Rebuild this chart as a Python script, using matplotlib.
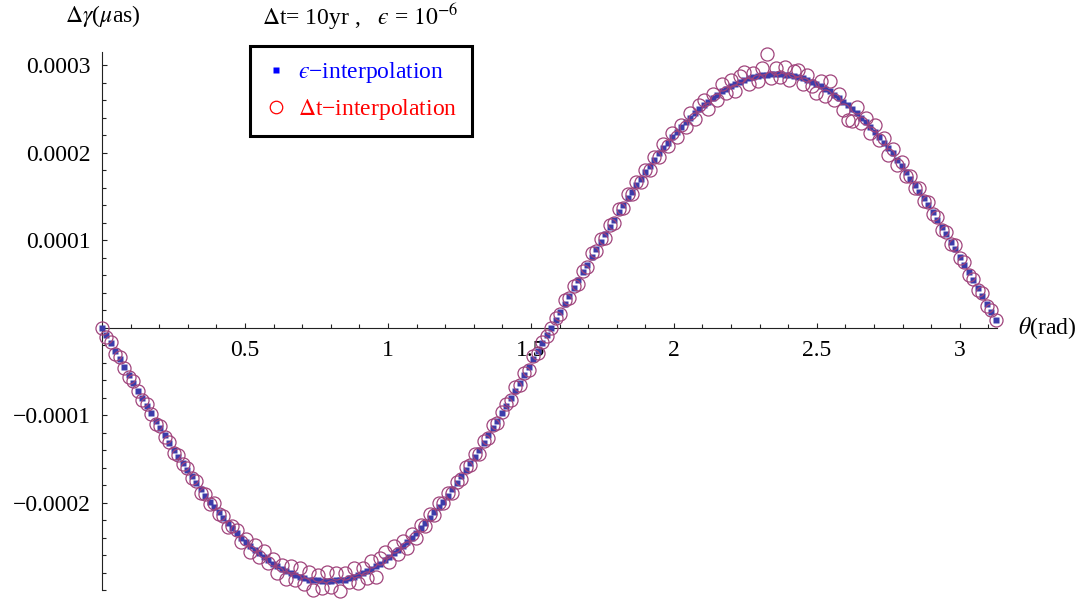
import numpy as np
import matplotlib
matplotlib.use('Agg')
import matplotlib.pyplot as plt
from matplotlib.lines import Line2D
from matplotlib.ticker import MultipleLocator

plt.rcParams['font.family'] = ['Liberation Serif', 'DejaVu Serif']
plt.rcParams['mathtext.fontset'] = 'stix'

# ---------------------------------------------------------------------------
# Data, values in units of 1e-6
# 200 samples, theta_k = k * pi / 200
# ---------------------------------------------------------------------------
theta_step = np.pi / 200

eps_interp = [
    0, -9, -18, -27, -36, -45, -54, -63, -72, -81,
    -90, -98, -107, -115, -123, -132, -140, -148, -155, -163,
    -170, -178, -185, -192, -199, -205, -211, -218, -223, -229,
    -235, -240, -245, -250, -254, -258, -262, -266, -270, -273,
    -276, -278, -281, -283, -285, -286, -288, -289, -289, -290,
    -290, -290, -289, -289, -288, -286, -285, -283, -281, -278,
    -276, -273, -270, -266, -262, -258, -254, -250, -245, -240,
    -235, -229, -223, -218, -211, -205, -199, -192, -185, -178,
    -170, -163, -155, -148, -140, -132, -123, -115, -107, -98,
    -90, -81, -72, -63, -54, -45, -36, -27, -18, -9,
    0, 9, 18, 27, 36, 45, 54, 63, 72, 81,
    90, 98, 107, 115, 123, 132, 140, 148, 155, 163,
    170, 178, 185, 192, 199, 205, 211, 218, 223, 229,
    235, 240, 245, 250, 254, 258, 262, 266, 270, 273,
    276, 278, 281, 283, 285, 286, 288, 289, 289, 290,
    290, 290, 289, 289, 288, 286, 285, 283, 281, 278,
    276, 273, 270, 266, 262, 258, 254, 250, 245, 240,
    235, 229, 223, 218, 211, 205, 199, 192, 185, 178,
    170, 163, 155, 148, 140, 132, 123, 115, 107, 98,
    90, 81, 72, 63, 54, 45, 36, 27, 18, 9,
]

dt_interp = [
    0, -11, -17, -30, -34, -46, -57, -61, -72, -83,
    -87, -99, -110, -113, -125, -131, -143, -146, -156, -160,
    -172, -175, -189, -190, -202, -201, -213, -215, -228, -227,
    -231, -245, -242, -256, -249, -262, -255, -269, -264, -281,
    -271, -287, -273, -289, -275, -293, -279, -300, -283, -298,
    -279, -297, -281, -301, -281, -291, -275, -292, -275, -286,
    -267, -285, -263, -256, -268, -250, -259, -244, -252, -236,
    -240, -226, -227, -213, -214, -201, -201, -189, -189, -176,
    -173, -159, -157, -145, -144, -130, -126, -111, -109, -97,
    -87, -83, -68, -66, -52, -49, -33, -29, -16, -10,
    0, 11, 15, 31, 34, 48, 50, 65, 69, 85,
    88, 101, 102, 117, 120, 136, 137, 153, 153, 166,
    166, 180, 180, 195, 195, 210, 208, 222, 218, 232,
    229, 245, 238, 254, 260, 250, 267, 260, 278, 268,
    283, 270, 287, 292, 278, 291, 282, 297, 313, 285,
    297, 286, 298, 283, 293, 294, 278, 289, 276, 268,
    282, 265, 282, 260, 267, 249, 237, 236, 252, 234,
    240, 222, 231, 214, 217, 197, 204, 186, 189, 173,
    173, 159, 160, 145, 144, 130, 126, 111, 109, 95,
    94, 79, 75, 60, 56, 43, 39, 25, 20, 9,
]

x_ticks = [0.5, 1, 1.5, 2, 2.5, 3]
x_labels = ['0.5', '1', '1.5', '2', '2.5', '3']
y_ticks = [-0.0002, -0.0001, 0.0001, 0.0002, 0.0003]
y_labels = ['\u22120.0002', '\u22120.0001', '0.0001', '0.0002', '0.0003']

theta = np.arange(len(eps_interp)) * theta_step
eps_y = np.array(eps_interp) * 1e-6
dt_y = np.array(dt_interp) * 1e-6

# ---------------------------------------------------------------------------
# Figure
# ---------------------------------------------------------------------------
W, H = 1084, 601
fig = plt.figure(figsize=(W / 100, H / 100), dpi=100)
ax = fig.add_axes([102 / W, 11 / H, 895 / W, 538 / H])

ax.plot(theta, eps_y, ls='none', marker='s', ms=4.4, color='#3c3caa',
        mec='none', zorder=3, clip_on=False)
ax.plot(theta, dt_y, ls='none', marker='o', ms=9.4, mfc='none',
        mec='#a0447c', mew=0.9, zorder=4, clip_on=False)

ax.set_xlim(0, 3.13)
ax.set_ylim(-0.000300, 0.000315)

# Mathematica style axes through the origin
for s in ['top', 'right']:
    ax.spines[s].set_visible(False)
ax.spines['bottom'].set_position(('data', 0))
ax.spines['left'].set_position(('data', 0))
for s in ['bottom', 'left']:
    ax.spines[s].set_linewidth(0.8)
    ax.spines[s].set_color('#222222')

ax.set_xticks(x_ticks)
ax.set_xticklabels(x_labels)
ax.set_yticks(y_ticks)
ax.set_yticklabels(y_labels)
ax.xaxis.set_minor_locator(MultipleLocator(0.1))
ax.yaxis.set_minor_locator(MultipleLocator(0.00002))
ax.tick_params(which='both', direction='in', top=False, right=False,
               width=0.8, color='#222222', labelsize=17)
ax.tick_params(which='major', length=3.6)
ax.tick_params(which='minor', length=2.6)
ax.tick_params(axis='x', pad=9)
ax.tick_params(axis='y', pad=8)

# axis labels and title
eps_sym = '$\u03f5$'
fig.text(65 / W, 1 - 16 / H, r'$\Delta\gamma$($\mu$as)', ha='left',
         va='center', fontsize=17)
fig.text(1018 / W, 1 - 328 / H, r'$\theta$(rad)', ha='left', va='center',
         fontsize=17)
fig.text(262 / W, 1 - 17 / H,
         r'$\Delta$t= 10yr ,   ' + eps_sym + r' = $10^{-6}$',
         ha='left', va='center', fontsize=17)

# legend
handles = [
    Line2D([], [], ls='none', marker='s', ms=4, color='blue', mec='none'),
    Line2D([], [], ls='none', marker='o', ms=9, mfc='none', mec='red',
           mew=0.9),
]
labels = [eps_sym + '\u2212interpolation',
          r'$\Delta$t' + '\u2212interpolation']
leg = fig.legend(handles, labels, loc='upper left',
                 bbox_to_anchor=(250 / W, 1 - 46 / H),
                 bbox_transform=fig.transFigure, frameon=True, fancybox=False,
                 edgecolor='black', fontsize=17, labelcolor=['blue', 'red'],
                 handlelength=1.0, handletextpad=0.45, borderpad=0.6,
                 labelspacing=0.5, borderaxespad=0, framealpha=1)
leg.get_frame().set_linewidth(2.2)

fig.savefig('out.png', dpi=100)
